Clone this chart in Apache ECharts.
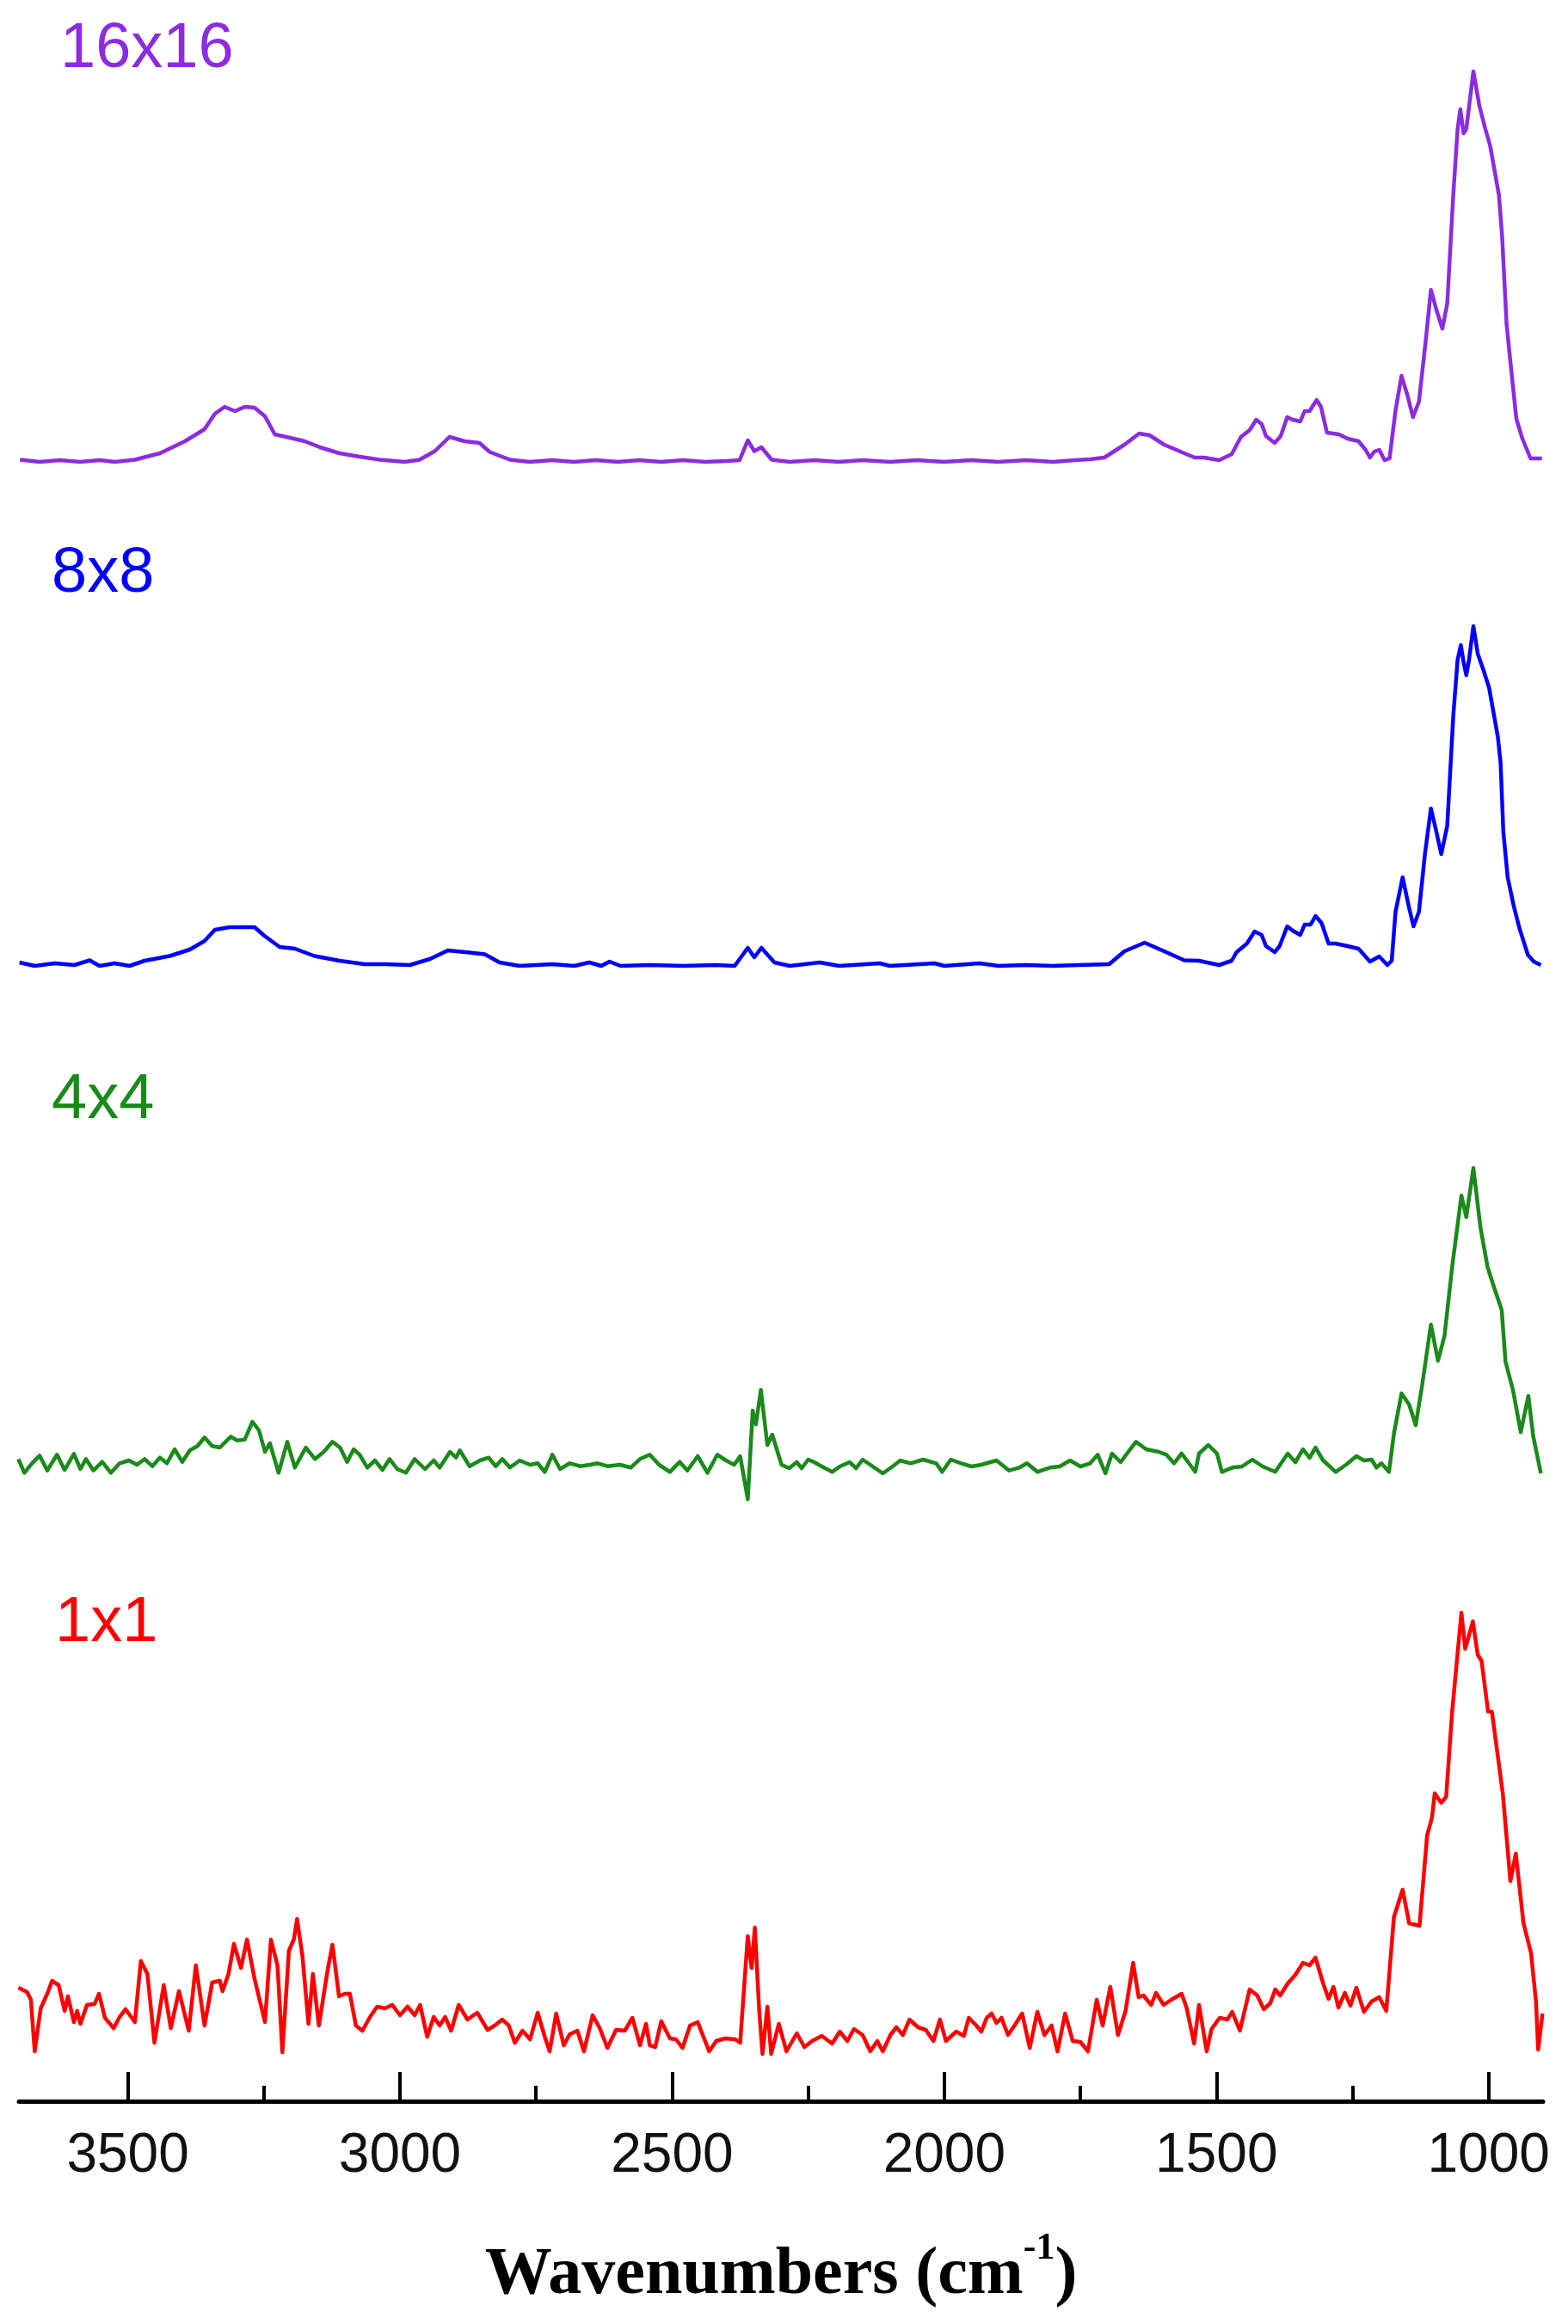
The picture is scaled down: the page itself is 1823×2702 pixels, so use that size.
<!DOCTYPE html>
<html>
<head>
<meta charset="utf-8">
<style>
html,body{margin:0;padding:0;background:#fff;}
#chart{width:1823px;height:2702px;}
</style>
<script src="https://cdn.jsdelivr.net/npm/echarts@6/dist/echarts.min.js"></script>
</head>
<body>
<div id="chart"></div>
<script>
// Wavenumber (cm-1), intensity (a.u., above each trace's own baseline)
const spec16 = [[3698,2.5],[3662,0],[3625,2],[3588,0],[3551,2],[3524,0],[3487,2.5],[3441,10],[3395,24],[3359,38],[3340,56],[3322,64],[3303,59],[3285,64],[3267,63],[3248,53],[3230,32],[3202,28],[3175,24],[3147,17],[3111,10],[3074,6],[3037,2.5],[2991,0],[2964,2.5],[2936,12.5],[2909,29],[2881,24],[2854,22],[2835,11.5],[2798,2.5],[2762,0],[2720,2],[2680,0],[2640,2],[2600,0],[2560,2],[2520,0],[2480,2],[2440,0],[2400,1],[2376,2],[2361,25],[2349,12.5],[2336,17],[2317,2.5],[2284,0],[2238,2],[2193,0],[2150,2],[2100,0],[2050,2],[2000,0],[1950,2],[1900,0],[1850,2],[1800,0],[1760,2],[1733,3],[1706,5],[1669,20],[1642,33],[1623,31],[1596,20],[1559,10],[1540,5],[1523,5],[1495,2],[1472,9],[1455,29],[1439,37],[1427,49],[1417,44],[1409,30],[1393,22],[1382,30],[1370,52],[1360,49],[1346,47],[1338,59],[1329,59],[1316,72],[1308,64],[1297,34],[1275,32],[1259,27],[1239,24],[1226,14],[1218,5],[1210,12],[1201,14],[1191,2],[1182,4],[1171,60],[1160,100],[1149,77],[1139,52],[1128,70],[1115,144],[1106,200],[1096,177],[1085,155],[1076,184],[1065,310],[1057,387],[1052,410],[1046,382],[1041,387],[1028,454],[1017,414],[1006,387],[997,367],[981,310],[975,260],[967,160],[959,110],[949,50],[938,27],[923,4],[912,4],[902,4]];

const spec8 = [[3699,4],[3671,0],[3634,3],[3598,1],[3570,6.5],[3552,0],[3524,3],[3497,0],[3469,6],[3423,11.5],[3386,19],[3359,29],[3340,42],[3313,45],[3267,45],[3249,35],[3221,22],[3193,20],[3157,11.5],[3111,6],[3065,2],[3028,2],[2982,1],[2945,8],[2912,18],[2872,15.4],[2844,13.5],[2817,4],[2780,0],[2720,2],[2680,0],[2652,4],[2630,0],[2615,5],[2595,0],[2540,1],[2480,0],[2420,1],[2385,0],[2361,21],[2349,10],[2336,21],[2312,4],[2284,0],[2229,4],[2193,0],[2119,3],[2100,0],[2018,3],[2000,0],[1935,3],[1900,0],[1850,1],[1800,0],[1752,1],[1697,2],[1669,17],[1632,27],[1596,17],[1559,6.5],[1532,6],[1523,4.7],[1495,1],[1472,6],[1463,16],[1444,26],[1430,40],[1417,36],[1409,23],[1393,16],[1384,23],[1370,46],[1360,41],[1346,36],[1338,48],[1327,48],[1318,58],[1307,50],[1294,26],[1281,26],[1259,23],[1239,20],[1218,5],[1201,11],[1186,1],[1178,6],[1171,63],[1158,103],[1147,70],[1138,46],[1128,63],[1117,130],[1106,183],[1096,156],[1087,130],[1076,163],[1065,290],[1057,356],[1051,373],[1046,353],[1041,338],[1036,356],[1028,395],[1020,363],[1009,343],[999,323],[983,266],[978,236],[973,156],[965,103],[954,70],[943,43],[928,13],[917,5],[904,1]];

const spec4 = [[3701,16.7],[3690,0.7],[3676,11.7],[3662,20.7],[3648,3.3],[3630,21.7],[3616,4],[3599,22.7],[3587,5],[3577,16.7],[3563,3.3],[3547,13.3],[3531,0.7],[3515,11.7],[3498,15],[3483,10],[3469,16.7],[3455,8.3],[3441,18.3],[3428,11.7],[3414,28],[3400,13.3],[3386,26.7],[3372,31.7],[3359,41.7],[3345,31.7],[3331,30],[3311,42.7],[3299,38.3],[3285,39.3],[3271,60],[3259,50],[3248,25],[3239,35],[3223,0.7],[3207,36.7],[3193,6.7],[3173,30],[3156,16.7],[3140,25],[3124,36.7],[3110,30],[3097,13.3],[3085,28],[3074,21.7],[3060,6.7],[3046,15],[3032,4],[3019,16.7],[3005,5],[2989,0.7],[2973,16.7],[2954,5],[2938,15],[2927,6.7],[2908,25],[2897,18.3],[2890,26.7],[2872,8.3],[2853,15],[2837,18.3],[2824,8.3],[2812,16.7],[2798,6.7],[2780,15],[2761,10],[2747,11.7],[2734,1.7],[2720,21.7],[2706,5],[2688,11.7],[2669,8.3],[2651,10],[2637,11.7],[2619,8.3],[2596,10],[2576,6.7],[2559,16.7],[2541,21.7],[2524,10],[2504,1.7],[2486,13.3],[2472,3.3],[2453,20],[2435,0.7],[2417,21.7],[2401,15],[2386,10],[2375,20],[2361,-30],[2352,73],[2346,57],[2337,97],[2325,33],[2316,45],[2299,10],[2285,6],[2271,13],[2262,6],[2250,16],[2239,13],[2225,8],[2206,1.7],[2192,8],[2174,13],[2162,6],[2150,16],[2136,10],[2113,0],[2095,8],[2081,15],[2062,11.7],[2039,16],[2015,11.7],[2004,1.7],[1988,16],[1969,11.7],[1950,8],[1932,10],[1904,15],[1881,3.3],[1862,6.7],[1848,11.7],[1829,1.7],[1806,6.7],[1788,8],[1769,15],[1750,8],[1732,11.7],[1718,21.7],[1704,0],[1692,23],[1676,13],[1662,25],[1648,36.7],[1629,28],[1606,25],[1592,21.7],[1578,11.7],[1564,23],[1552,13],[1539,1.7],[1532,23],[1515,33],[1499,23],[1490,1.7],[1471,6.7],[1453,8],[1434,16],[1415,8],[1392,1.7],[1369,23],[1355,13],[1341,28],[1329,18],[1318,30],[1304,15],[1281,1.7],[1262,10],[1243,20],[1229,15],[1215,16],[1206,6.7],[1197,11.7],[1183,1.7],[1174,46],[1160,93],[1146,80],[1134,56],[1122,103],[1106,173],[1093,131],[1081,160],[1067,240],[1050,323],[1041,298],[1028,355],[1015,286],[1002,240],[992,220],[976,190],[969,130],[955,96],[941,48],[927,90],[918,43],[904,0]];

const spec1 = [[3701,77],[3685,72],[3678,63],[3671,3],[3660,53],[3648,70],[3639,85],[3627,80],[3616,50],[3610,67],[3599,37],[3593,50],[3587,35],[3575,57],[3561,58],[3553,70],[3542,42],[3526,30],[3515,43],[3504,52],[3487,37],[3476,108],[3464,93],[3451,13],[3434,80],[3421,30],[3406,73],[3388,27],[3375,103],[3359,33],[3345,83],[3331,85],[3326,73],[3315,93],[3305,128],[3292,100],[3281,133],[3267,87],[3248,37],[3237,133],[3225,103],[3216,2],[3204,120],[3195,133],[3189,157],[3179,113],[3168,35],[3160,93],[3149,33],[3133,97],[3124,127],[3112,67],[3101,70],[3092,70],[3081,33],[3069,27],[3055,43],[3042,55],[3028,53],[3014,57],[3000,45],[2986,55],[2973,45],[2963,57],[2950,20],[2938,43],[2927,33],[2917,43],[2906,27],[2892,57],[2876,40],[2858,48],[2839,28],[2826,33],[2812,40],[2800,33],[2789,13],[2775,27],[2761,17],[2747,48],[2734,20],[2725,3],[2713,47],[2699,10],[2688,23],[2674,27],[2662,3],[2646,45],[2633,30],[2619,7],[2603,28],[2587,27],[2573,42],[2559,10],[2548,35],[2541,10],[2531,8],[2520,38],[2504,18],[2493,17],[2481,7],[2467,33],[2453,37],[2432,3],[2419,15],[2403,18],[2384,17],[2375,13],[2361,137],[2354,100],[2348,147],[2340,50],[2334,0],[2325,55],[2318,0],[2304,35],[2290,3],[2271,24],[2257,8],[2243,15],[2225,21],[2206,12],[2192,26],[2178,15],[2166,29],[2150,22],[2136,3],[2123,15],[2113,3],[2099,22],[2088,31],[2076,22],[2064,40],[2048,31],[2034,28],[2020,15],[2008,40],[1997,15],[1978,26],[1964,21],[1955,42],[1941,33],[1932,26],[1922,42],[1913,47],[1904,36],[1895,42],[1883,22],[1871,33],[1857,47],[1843,7],[1829,49],[1816,22],[1803,33],[1792,3],[1778,47],[1764,15],[1750,14],[1736,3],[1720,63],[1709,33],[1695,78],[1681,22],[1667,50],[1653,106],[1643,66],[1634,68],[1620,57],[1611,71],[1597,57],[1583,63],[1564,70],[1555,54],[1541,12],[1532,57],[1518,3],[1509,29],[1494,42],[1480,40],[1471,49],[1457,27],[1439,75],[1425,68],[1413,52],[1401,59],[1392,75],[1383,68],[1369,82],[1355,92],[1341,106],[1329,103],[1318,112],[1304,82],[1294,64],[1285,78],[1276,54],[1264,71],[1254,56],[1243,77],[1229,49],[1215,61],[1201,66],[1188,50],[1174,159],[1158,191],[1146,152],[1127,149],[1113,254],[1104,275],[1099,303],[1087,292],[1078,299],[1067,398],[1050,513],[1043,471],[1029,503],[1020,464],[1013,457],[1001,398],[994,398],[974,303],[960,201],[950,233],[936,152],[922,117],[913,61],[909,5],[901,47]];

const seriesNames = ['16x16', '8x8', '4x4', '1x1'];
const seriesData = [spec16, spec8, spec4, spec1];
const majorTicks = [1000, 1500, 2000, 2500, 3000, 3500];
const minorTicks = [1250, 1750, 2250, 2750, 3250];

// presentation: stacking offsets and colours
const offsets = [1906, 1320, 730, 55];
const colors = ['#8B2BE2', '#0000FF', '#1A8A1A', '#FF0000'];
const labelPos = [[70, 58], [60, 668], [60, 1280], [64, 1888]];

const chart = echarts.init(document.getElementById('chart'), null, {renderer: 'canvas'});

const series = seriesData.map((d, i) => ({
  name: seriesNames[i],
  type: 'line',
  xAxisIndex: 0,
  symbol: 'none',
  smooth: false,
  silent: true,
  lineStyle: {color: colors[i], width: 4.5, join: 'round'},
  data: d.map(p => [p[0], p[1] + offsets[i]])
}));

const graphic = seriesNames.map((n, i) => ({
  type: 'text',
  x: labelPos[i][0],
  y: labelPos[i][1],
  style: {
    text: n,
    fill: colors[i],
    fontSize: 74,
    fontFamily: 'Liberation Sans, Arial, sans-serif',
    verticalAlign: 'middle',
    align: 'left'
  }
}));

chart.setOption({
  animation: false,
  backgroundColor: '#ffffff',
  grid: {left: 22, right: 29, top: 0, bottom: 259, containLabel: false},
  xAxis: [{
    type: 'value', min: 900, max: 3700, inverse: true, position: 'bottom',
    axisLine: {show: true, onZero: false, lineStyle: {color: '#000', width: 5}},
    axisTick: {show: true, inside: true, length: 34, lineStyle: {color: '#000', width: 4}, customValues: majorTicks},
    axisLabel: {show: true, customValues: majorTicks, formatter: v => String(v), fontSize: 64, fontFamily: 'Liberation Sans, Arial, sans-serif', color: '#111', margin: 32},
    splitLine: {show: false},
    name: '{t|Wavenumbers (cm}{s|-1}{t|)}',
    nameLocation: 'middle',
    nameGap: 150,
    nameTextStyle: {
      rich: {
        t: {fontSize: 78, fontWeight: 'bold', fontFamily: 'Liberation Serif, Times New Roman, serif', color: '#000', lineHeight: 92, verticalAlign: 'bottom'},
        s: {fontSize: 44, fontWeight: 'bold', fontFamily: 'Liberation Serif, Times New Roman, serif', color: '#000', lineHeight: 92, verticalAlign: 'top'}
      }
    }
  }, {
    type: 'value', min: 900, max: 3700, inverse: true, position: 'bottom',
    axisLine: {show: false, onZero: false},
    axisTick: {show: true, inside: true, length: 18, lineStyle: {color: '#000', width: 4}, customValues: minorTicks},
    axisLabel: {show: false, customValues: minorTicks},
    splitLine: {show: false}
  }],
  yAxis: {type: 'value', min: 0, max: 2443, show: false},
  graphic: graphic,
  series: series
});
</script>
</body>
</html>
